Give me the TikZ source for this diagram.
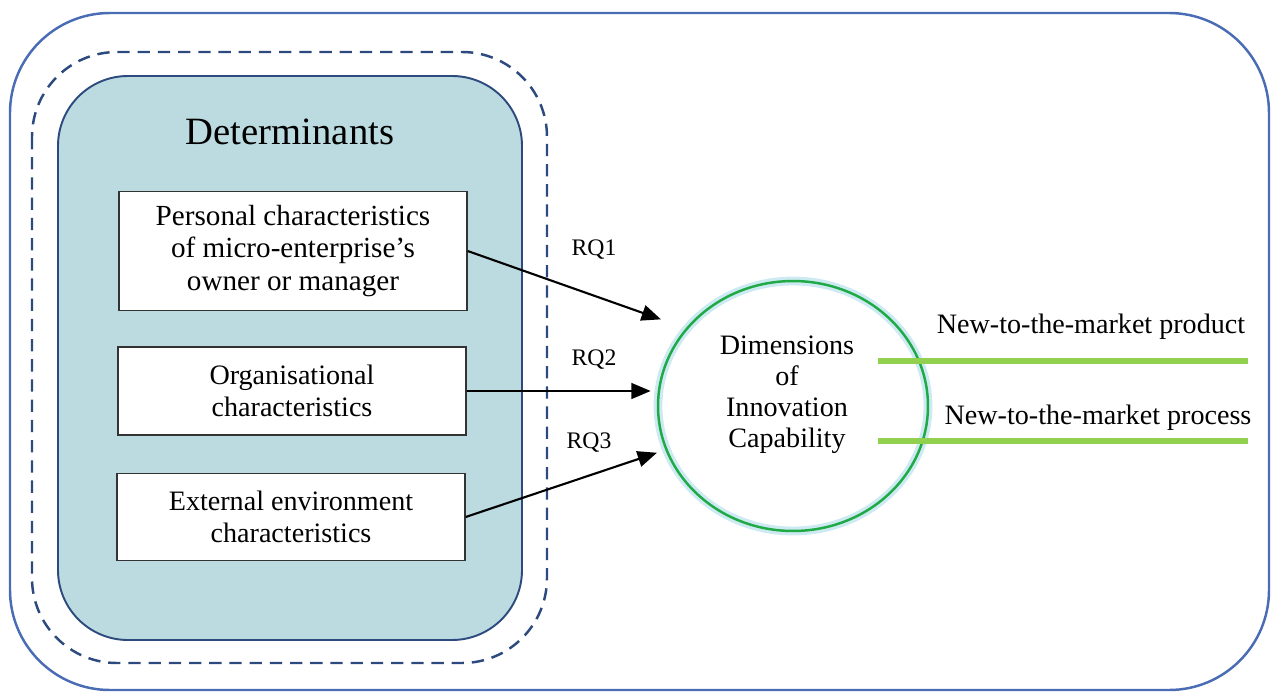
\documentclass[tikz,border=0pt]{standalone}
\usepackage{fontspec}
\setmainfont{Liberation Serif}
\usetikzlibrary{shapes.geometric}
\usetikzlibrary{arrows.meta}

\definecolor{outerblue}{HTML}{4A6CB4}
\definecolor{navy}{HTML}{2D4A7E}
\definecolor{paleteal}{HTML}{BCDBE0}
\definecolor{ringgreen}{HTML}{1FAA45}
\definecolor{glow}{HTML}{CDE9F2}
\definecolor{linegreen}{HTML}{92D050}

\begin{document}
\begin{tikzpicture}[x=0.02cm,y=-0.02cm,
        box/.style={rectangle,draw=black!80,fill=white,line width=0.8pt,minimum width=6.96cm,align=center,font=\fontsize{16}{18.5}\selectfont},
        rq/.style={font=\fontsize{13.5}{16}\selectfont},
        link/.style={line width=1.2pt,-{Triangle[length=11pt,width=9pt]}},
        outcome/.style={line width=3.6pt,linegreen}]

            %\draw [help lines] (0,0) grid (1271,693);
            \useasboundingbox (0,0) rectangle (1271,693);

            % frames
            \draw[outerblue,line width=1.4pt,rounded corners=2cm] (10,13) rectangle (1269,690);
            \draw[navy,line width=1.4pt,dash pattern=on 7pt off 4.5pt,rounded corners=1.7cm] (32,52) rectangle (547,663);
            \draw[navy,fill=paleteal,line width=1.1pt,rounded corners=1.4cm] (58,76) rectangle (522,640);

            \path   (290,132) node (det) [font=\fontsize{22}{26}\selectfont] {Determinants}
                    (293,251) node (p1) [box,minimum height=2.38cm,font=\fontsize{16.6}{18.7}\selectfont] {Personal characteristics\\ of micro-enterprise's\\ owner or manager}
                    (292,391) node (p2) [box,minimum height=1.76cm] {Organisational\\ characteristics}
                    (291,517) node (p3) [box,minimum height=1.74cm] {External environment\\ characteristics}
                    (793,406) node (dim) [ellipse,draw=ringgreen,line width=1.4pt,preaction={draw=glow,line width=5pt},minimum width=5.4cm,minimum height=5cm,inner sep=0pt] {}
                    (787,395) node (dimtext) [align=center,font=\fontsize{16}{17.6}\selectfont] {Dimensions\\ of\\ Innovation\\ Capability};

            % research questions
            \path   (594,250) node (rq1) [rq] {RQ1}
                    (594,360) node (rq2) [rq] {RQ2}
                    (589,443) node (rq3) [rq] {RQ3};

            \draw[link,shorten >=15pt] (p1.east) -- (dim.144);
            \draw[link,shorten >=3.5pt] (p2.east) -- (p2.east -| dim.west);
            \draw[link,shorten >=5pt] (p3.east) -- (dim.199);

            % outcomes
            \coordinate (prodA) at (878,361);
            \coordinate (prodB) at (1248,361);
            \coordinate (procA) at (878,441);
            \coordinate (procB) at (1248,441);
            \draw[outcome] (prodA) -- (prodB);
            \draw[outcome] (procA) -- (procB);
            \path   (1091,327) node (prod) [font=\fontsize{16}{18}\selectfont] {New-to-the-market product}
                    (1098,418) node (proc) [font=\fontsize{16}{18}\selectfont] {New-to-the-market process};

        \end{tikzpicture}
\end{document}
